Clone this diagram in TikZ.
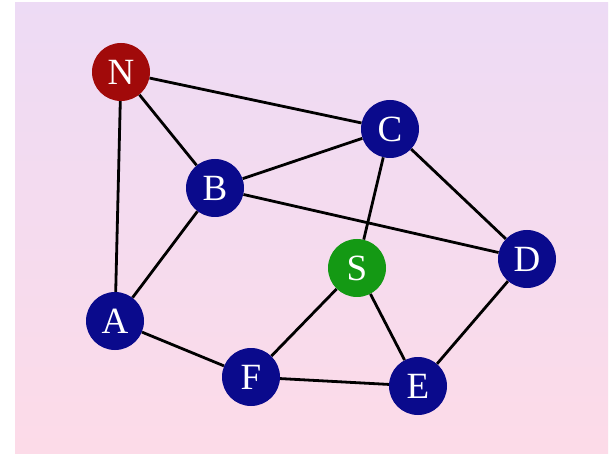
\documentclass[tikz,border=0pt]{standalone}
\usepackage{fontspec}
\setmainfont{Liberation Serif}
\usepackage{tikz}
\definecolor{bgtop}{rgb}{0.93,0.86,0.96}
\definecolor{bgbottom}{rgb}{0.99,0.86,0.91}
\definecolor{nodeblue}{rgb}{0.04,0.04,0.55}
\definecolor{nodered}{rgb}{0.63,0.04,0.04}
\definecolor{nodegreen}{rgb}{0.08,0.60,0.08}
\tikzset{
  vertex/.style={circle,fill=nodeblue,text=white,minimum size=58pt,inner sep=0pt,
    font=\fontsize{37}{37}\selectfont},
  startvertex/.style={vertex,fill=nodegreen},
  netvertex/.style={vertex,fill=nodered},
  link/.style={draw=black,line width=2.8pt}
}

\begin{document}
\begin{tikzpicture}[x=1pt,y=-1pt]
  \useasboundingbox (0,0) rectangle (614,468);
  \fill[white] (0,0) rectangle (614,468);
  \shade[top color=bgtop,bottom color=bgbottom] (15,3) rectangle (608,453);
  \node[netvertex]   (N) at (121, 72) {N};
  \node[vertex]      (C) at (390,129) {C};
  \node[vertex]      (B) at (215,188) {B};
  \node[startvertex] (S) at (357,268) {S};
  \node[vertex]      (D) at (527,259) {D};
  \node[vertex]      (A) at (115,321) {A};
  \node[vertex]      (F) at (251,377) {F};
  \node[vertex]      (E) at (418,386) {E};
  \draw (N) -- (C) [link];
  \draw (N) -- (B) [link];
  \draw (N) -- (A) [link];
  \draw (B) -- (C) [link];
  \draw (B) -- (D) [link];
  \draw (B) -- (A) [link];
  \draw (C) -- (S) [link];
  \draw (C) -- (D) [link];
  \draw (S) -- (F) [link];
  \draw (S) -- (E) [link];
  \draw (D) -- (E) [link];
  \draw (A) -- (F) [link];
  \draw (F) -- (E) [link];
\end{tikzpicture}
\end{document}
